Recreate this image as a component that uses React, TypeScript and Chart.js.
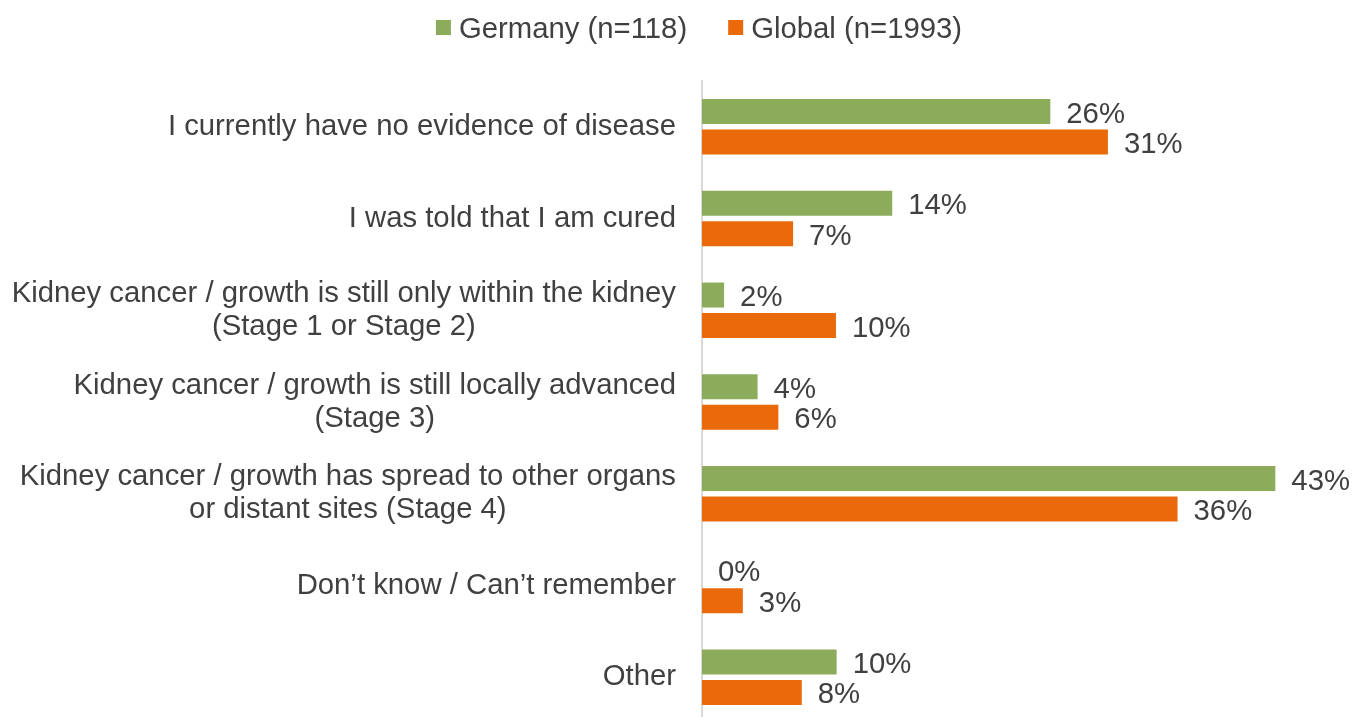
import React, { useEffect, useRef } from "react";
import { Chart, registerables } from "chart.js";

Chart.register(...registerables);

const categories: (string | string[])[] = [
  "I currently have no evidence of disease",
  "I was told that I am cured",
  ["Kidney cancer / growth is still only within the kidney", "(Stage 1 or Stage 2)"],
  ["Kidney cancer / growth is still locally advanced", "(Stage 3)"],
  ["Kidney cancer / growth has spread to other organs", "or distant sites (Stage 4)"],
  "Don\u2019t know / Can\u2019t remember",
  "Other",
];
const seriesNames = ["Germany (n=118)", "Global (n=1993)"];
// bar lengths
const germanyValues = [26.0, 14.2, 1.65, 4.15, 42.8, 0, 10.05];
const globalValues = [30.3, 6.8, 10.0, 5.7, 35.5, 3.05, 7.45];
// printed value labels
const germanyLabels = ["26%", "14%", "2%", "4%", "43%", "0%", "10%"];
const globalLabels = ["31%", "7%", "10%", "6%", "36%", "3%", "8%"];
const seriesColors = ["#8CAC5B", "#EA6A0B"];

const FONT = '"Liberation Sans", Arial, sans-serif';
const TEXT_COLOR = "#404040";
const FONT_SIZE = 29.3;

const customDraw = {
  id: "customDraw",
  afterDraw(chart: any) {
    const ctx = chart.ctx;
    const area = chart.chartArea;
    ctx.save();
    ctx.font = `${FONT_SIZE}px ${FONT}`;
    ctx.fillStyle = TEXT_COLOR;
    ctx.textBaseline = "middle";

    // category labels
    const yScale = chart.scales.y;
    const labels = chart.data.labels as (string | string[])[];
    const lineH = 33;
    labels.forEach((lab, i) => {
      const lines = Array.isArray(lab) ? lab : [lab];
      const widths = lines.map((l) => ctx.measureText(l).width);
      const blockW = Math.max(...widths);
      const right = area.left - 26;
      const cx = right - blockW / 2;
      const yc = yScale.getPixelForTick(i);
      ctx.textAlign = "center";
      lines.forEach((l, j) => {
        ctx.fillText(l, cx, yc + (j - (lines.length - 1) / 2) * lineH);
      });
    });

    // data labels
    ctx.textAlign = "left";
    chart.data.datasets.forEach((ds: any, di: number) => {
      const meta = chart.getDatasetMeta(di);
      const texts = ds.valueLabels as string[];
      meta.data.forEach((el: any, i: number) => {
        ctx.fillText(texts[i], el.x + 16, el.y + 3);
      });
    });

    // legend
    const items = chart.data.datasets.map((ds: any) => ({
      text: ds.label,
      color: ds.backgroundColor,
      w: ctx.measureText(ds.label).width,
    }));
    const box = 15;
    const gap = 8;
    const itemGap = 41;
    const total =
      items.reduce((s: number, it: any) => s + box + gap + it.w, 0) + itemGap * (items.length - 1);
    let x = area.left - 3 - total / 2;
    const ly = 27.5;
    items.forEach((it: any) => {
      ctx.fillStyle = it.color;
      ctx.fillRect(x, ly - box / 2, box, box);
      ctx.fillStyle = TEXT_COLOR;
      ctx.textAlign = "left";
      ctx.fillText(it.text, x + box + gap, ly + 2);
      x += box + gap + it.w + itemGap;
    });
    ctx.restore();
  },
};

export default function App() {
  const ref = useRef<HTMLCanvasElement>(null);
  useEffect(() => {
    if (!ref.current) return;
    const chart = new Chart(ref.current, {
      type: "bar",
      data: {
        labels: categories as any,
        datasets: [
          {
            label: seriesNames[0],
            data: germanyValues,
            valueLabels: germanyLabels,
            backgroundColor: seriesColors[0],
            categoryPercentage: 0.665,
            barPercentage: 0.82,
          } as any,
          {
            label: seriesNames[1],
            data: globalValues,
            valueLabels: globalLabels,
            backgroundColor: seriesColors[1],
            categoryPercentage: 0.665,
            barPercentage: 0.82,
          } as any,
        ],
      },
      options: {
        indexAxis: "y",
        responsive: false,
        animation: false,
        layout: { padding: { top: 81, right: 17, left: 0, bottom: 0 } },
        plugins: {
          legend: { display: false },
          tooltip: { enabled: false },
        },
        scales: {
          x: {
            display: false,
            min: 0,
            max: 48,
          },
          y: {
            type: "category",
            offset: true,
            grid: { display: false, drawTicks: false },
            border: { display: true, color: "#D9D9D9", width: 2 },
            ticks: { display: false },
            afterFit: (scale: any) => {
              scale.width = 702;
            },
          },
        },
      },
      plugins: [customDraw],
    });
    return () => chart.destroy();
  }, []);
  return (
    <div
      style={{
        position: "absolute",
        left: 0,
        top: 0,
        width: 1362,
        height: 717,
        overflow: "hidden",
        background: "#fff",
      }}
    >
      <canvas ref={ref} width={1362} height={723} style={{ display: "block" }} />
    </div>
  );
}
